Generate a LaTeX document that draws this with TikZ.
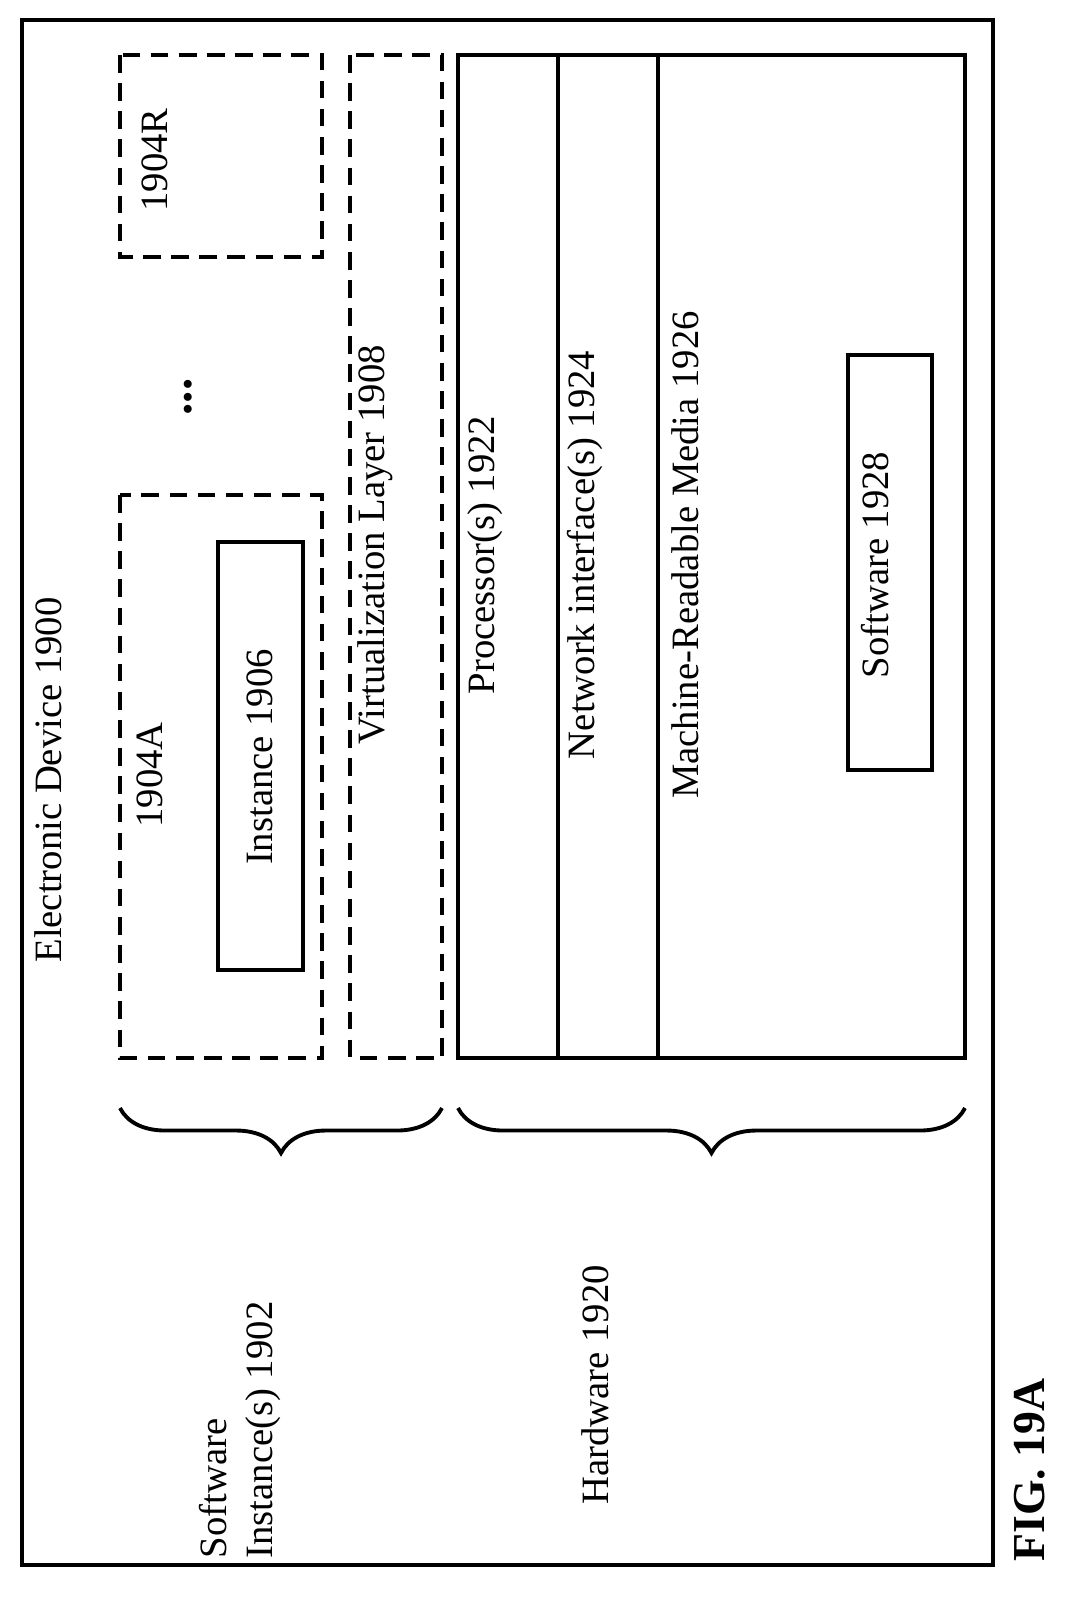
\documentclass[tikz,border=0pt]{standalone}
\usepackage{fontspec}
\setmainfont{Liberation Serif}
\usetikzlibrary{decorations.pathreplacing}
\begin{document}
\begin{tikzpicture}[x=0.01cm,y=-0.01cm,
  lbl/.style={rotate=90,font=\fontsize{11}{13}\selectfont},
  dbox/.style={draw,dashed,line width=1.1pt,dash pattern=on 5pt off 3pt},
  sbox/.style={draw,line width=1.1pt},
  brc/.style={decorate,decoration={brace,amplitude=0.45cm},line width=1.1pt}]
\useasboundingbox (0,0) rectangle (1089,1606);

\draw[sbox] (22,20) rectangle (993,1565);
\node[lbl] (dev) at (48,780) {Electronic Device 1900};

\draw[dbox] (120,55) rectangle (322,257);
\node[lbl] (r) at (155,160) {1904R};
\node[rotate=90,font=\fontsize{14}{14}\selectfont\bfseries] (dots) at (188,397) {...};

\draw[dbox] (120,495) rectangle (322,1058);
\node[lbl] (a) at (150,775) {1904A};
\draw[sbox] (218,542) rectangle (303,970);
\node[lbl] (inst) at (260,757) {Instance 1906};

\draw[dbox] (350,55) rectangle (442,1058);
\node[lbl] (virt) at (375,545) {Virtualization Layer 1908};

\draw[sbox] (458,55) rectangle (965,1058);
\draw[sbox] (558,55) -- (558,1058);
\draw[sbox] (658,55) -- (658,1058);
\node[lbl] (proc) at (485,555) {Processor(s) 1922};
\node[lbl] (net) at (585,555) {Network interface(s) 1924};
\node[lbl] (mrm) at (685,555) {Machine-Readable Media 1926};
\draw[sbox] (848,355) rectangle (932,770);
\node[lbl] (sw) at (875,565) {Software 1928};

\coordinate (b1s) at (442,1108);
\coordinate (b1e) at (120,1108);
\draw[brc] (b1s) -- (b1e);
\coordinate (b2s) at (965,1108);
\coordinate (b2e) at (458,1108);
\draw[brc] (b2s) -- (b2e);

\node[lbl,align=left] (swi) at (240,1430) {Software\\Instance(s) 1902};
\node[lbl] (hw) at (595,1385) {Hardware 1920};
\node[rotate=90,font=\fontsize{13}{15}\selectfont\bfseries] (fig) at (1030,1470) {FIG. 19A};
\end{tikzpicture}
\end{document}
